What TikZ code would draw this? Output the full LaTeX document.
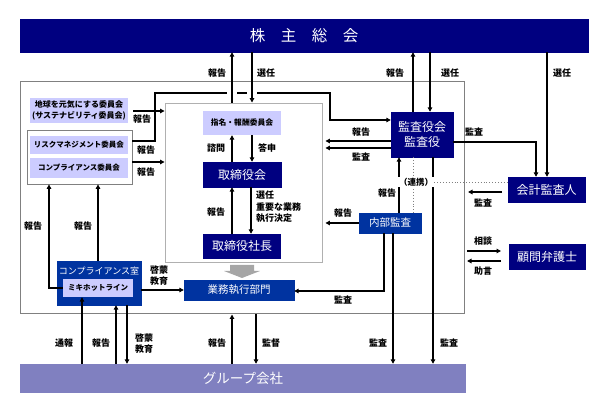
\documentclass[tikz,border=0pt]{standalone}
\usepackage{fontspec}
\setmainfont{Noto Sans CJK JP}
\usetikzlibrary{arrows.meta,calc}
\definecolor{navy}{HTML}{000080}
\definecolor{midblue}{HTML}{0033A0}
\definecolor{lav}{HTML}{CCCCFF}
\definecolor{grpcol}{HTML}{8080C0}
\definecolor{framegray}{HTML}{808080}
\definecolor{innergray}{HTML}{B0B0B0}
\definecolor{blockgray}{HTML}{A6A6A6}
\tikzset{
  navybox/.style={fill=navy, draw=navy, text=white, inner sep=0pt, align=center, font=\fontsize{12}{15}\selectfont},
  bluebox/.style={fill=midblue, draw=midblue, text=white, inner sep=0pt, align=center, font=\fontsize{10.5}{12}\selectfont},
  lavbox/.style={fill=lav, draw=none, text=black, inner sep=0pt, align=center, font=\bfseries\fontsize{7.5}{10}\selectfont},
  lbl/.style={font=\bfseries\fontsize{9}{11}\selectfont, inner sep=0pt, text=black},
  arr/.style={line width=1.3pt, -{Triangle[length=4.5pt,width=4.5pt]}},
  ln/.style={line width=1.3pt},
  dots/.style={dotted, line width=0.9pt, color=framegray}
}
\begin{document}
\begin{tikzpicture}[x=1pt,y=-1pt]
\useasboundingbox (0,0) rectangle (600,403);
% frames
\node[draw=framegray, line width=1pt, minimum width=444pt, minimum height=232pt, inner sep=0pt] (outer) at (242,198) {};
\node[draw=innergray, line width=0.9pt, minimum width=157pt, minimum height=159pt, inner sep=0pt] (board) at (243.5,182.5) {};
\node[draw=framegray, line width=0.8pt, fill=white, minimum width=105pt, minimum height=54pt, inner sep=0pt] (riskf) at (79.5,157) {};
% boxes
\node[navybox, minimum width=568pt, minimum height=33pt, font=\fontsize{15.5}{18}\selectfont] (top) at (304,35.5) {株　主　総　会};
\node[lavbox, minimum width=98pt, minimum height=25pt, font=\bfseries\fontsize{8}{11}\selectfont] (chikyu) at (79,110.5) {地球を元気にする委員会\\(サステナビリティ委員会)};
\node[lavbox, minimum width=98pt, minimum height=18pt] (risk) at (79,145) {リスクマネジメント委員会};
\node[lavbox, minimum width=98pt, minimum height=20pt] (compc) at (79,168) {コンプライアンス委員会};
\node[lavbox, minimum width=78pt, minimum height=24pt, font=\bfseries\fontsize{7.8}{10}\selectfont] (shimei) at (242,123) {指名・報酬委員会};
\node[navybox, minimum width=78pt, minimum height=25pt] (tori) at (242,174.5) {取締役会};
\node[navybox, minimum width=77pt, minimum height=24pt] (shacho) at (242,246) {取締役社長};
\node[bluebox, minimum width=110pt, minimum height=20pt] (gyomu) at (239,290) {業務執行部門};
\node[navybox, minimum width=62pt, minimum height=45pt] (kansa) at (422,134.5) {監査役会\\監査役};
\node[navybox, minimum width=77pt, minimum height=25pt] (kaikei) at (546.5,189.5) {会計監査人};
\node[bluebox, minimum width=62pt, minimum height=20pt] (naibu) at (390,223) {内部監査};
\node[navybox, minimum width=76pt, minimum height=25pt] (komon) at (547,256.5) {顧問弁護士};
\node[bluebox, minimum width=84pt, minimum height=44pt] (cshitsu) at (99,283) {};
\node[text=white, inner sep=0pt, font=\fontsize{9}{11}\selectfont] (cshitsuT) at (99,271) {コンプライアンス室};
\node[lavbox, minimum width=70pt, minimum height=18pt, font=\bfseries\fontsize{7.5}{9}\selectfont] (hotline) at (98,288) {ミキホットライン};
\node[fill=grpcol, draw=none, text=white, inner sep=0pt, minimum width=446pt, minimum height=29pt, font=\fontsize{13.5}{16}\selectfont] (group) at (243,378.5) {グループ会社};
% gray block arrow
\fill[blockgray] (230,265) -- (254,265) -- (254,271) -- (260,271) -- (242,278) -- (224,271) -- (230,271) -- cycle;
% top connections
\draw[ln] (riskf.east |- 0,141) -- (155,141) -- (155,93) -- (227,93);
\draw[ln] (237,93) -- (247,93);
\draw[arr] (257,93) -- (330,93) -- (330,120) -- (kansa.west |- 0,120);
\draw[arr] (232,0 |- board.north) -- (232,0 |- top.south);
\draw[arr] (252,0 |- top.south) -- (252,0 |- board.north);
\draw[arr] (413,0 |- kansa.north) -- (413,0 |- top.south);
\draw[arr] (430,0 |- top.south) -- (430,0 |- kansa.north);
\draw[arr] (547,0 |- top.south) -- (547,0 |- kaikei.north);
\draw[arr] (kansa.east |- 0,142) -- (536,142) -- (536,0 |- kaikei.north);
\draw[arr] (kansa.west |- 0,141) -- ([xshift=3pt]board.east |- 0,141);
\draw[arr] (kansa.west |- 0,148) -- ([xshift=3pt]board.east |- 0,148);
% committees
\draw[arr] (133,111) -- (board.west |- 0,111);
\draw[arr] (riskf.east |- 0,162) -- (board.west |- 0,162);
% board internal
\draw[arr] (232,0 |- tori.north) -- (232,0 |- shimei.south);
\draw[arr] (252,0 |- shimei.south) -- (252,0 |- tori.north);
\draw[arr] (232,0 |- shacho.north) -- (232,0 |- tori.south);
\draw[arr] (251,0 |- tori.south) -- (251,0 |- shacho.north);
% compliance
\draw[arr] (hotline.west) -- (49,0 |- hotline.west) -- (49,0 |- riskf.south);
\draw[arr] (98,0 |- cshitsu.north) -- (98,0 |- riskf.south);
\draw[arr] (cshitsu.east |- gyomu.west) -- (gyomu.west);
\draw[arr] (82,0 |- group.north) -- (82,0 |- hotline.south);
\draw[arr] (116,0 |- group.north) -- (116,0 |- cshitsu.south);
\draw[arr] (127,0 |- cshitsu.south) -- (127,0 |- group.north);
% group
\draw[arr] (232,0 |- group.north) -- (232,0 |- outer.south);
\draw[arr] (256,0 |- outer.south) -- (256,0 |- group.north);
\draw[arr] (393,0 |- naibu.south) -- (393,0 |- group.north);
\draw[arr] (433,0 |- kansa.south) -- (433,0 |- group.north);
% internal audit
\draw[arr] (399,0 |- naibu.north) -- (399,0 |- kansa.south);
\draw[arr] (naibu.west) -- ([xshift=3pt]board.east |- naibu.west);
\draw[arr] (384,0 |- naibu.south) -- (384,291) -- (gyomu.east |- 0,291);
% dotted liaison
\draw[dots] (413,0 |- kansa.south) -- (413,0 |- naibu.north);
\node[lbl, fill=white, inner sep=1pt, font=\bfseries\fontsize{8.5}{11}\selectfont] (renkei) at (416,182) {（連携）};
\draw[dots] (renkei.east) -- (kaikei.west |- renkei.east);
% right side
\draw[arr] (502,192) -- (468,192);
\draw[arr] (467,251) -- (501,251);
\draw[arr] (501,261) -- (467,261);
% labels
\node[lbl] (l1) at (217,73) {報告};
\node[lbl] (l2) at (266,73) {選任};
\node[lbl] (l3) at (395,73) {報告};
\node[lbl] (l4) at (450,73) {選任};
\node[lbl] (l5) at (562,73) {選任};
\node[lbl] (l6) at (474,132) {監査};
\node[lbl] (l7) at (361,132) {報告};
\node[lbl] (l8) at (361,157) {監査};
\node[lbl] (l9) at (142,119) {報告};
\node[lbl] (l10) at (146,150) {報告};
\node[lbl] (l11) at (146,172) {報告};
\node[lbl] (l12) at (216,148) {諮問};
\node[lbl] (l13) at (267,148) {答申};
\node[lbl] (l14) at (216,212) {報告};
\node[lbl, anchor=west, align=left, font=\bfseries\fontsize{9}{11.5}\selectfont] (l15) at (256,207) {選任\\重要な業務\\執行決定};
\node[lbl] (l16) at (387,193) {報告};
\node[lbl] (l17) at (343,213) {報告};
\node[lbl] (l18) at (343,300) {監査};
\node[lbl] (l19) at (483,203) {監査};
\node[lbl] (l20) at (483,241) {相談};
\node[lbl] (l21) at (483,271) {助言};
\node[lbl] (l22) at (33,226) {報告};
\node[lbl] (l23) at (83,226) {報告};
\node[lbl, align=center] (l24) at (159,276) {啓蒙\\教育};
\node[lbl] (l25) at (64,343) {通報};
\node[lbl] (l26) at (101,343) {報告};
\node[lbl, align=center] (l27) at (144,344) {啓蒙\\教育};
\node[lbl] (l28) at (217,343) {報告};
\node[lbl] (l29) at (271,343) {監督};
\node[lbl] (l30) at (378,343) {監査};
\node[lbl] (l31) at (449,343) {監査};
\end{tikzpicture}
\end{document}
